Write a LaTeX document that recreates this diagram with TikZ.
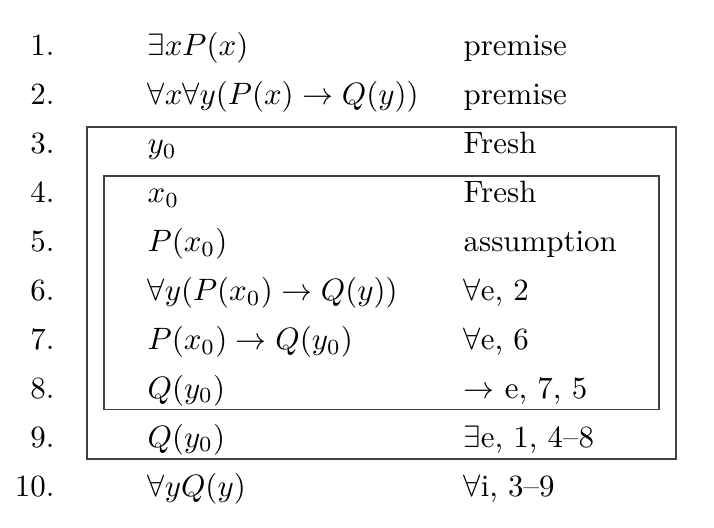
\documentclass[tikz,border=0pt]{standalone}
\begin{document}
\begin{tikzpicture}[x=0.3235pt, y=-0.3235pt,
    num/.style={anchor=base east, inner sep=0pt},
    fml/.style={anchor=base west, inner sep=0pt},
    box/.style={draw=black!75, line width=0.45pt}]
  \useasboundingbox (0, 0) rectangle (714, 528);
  \node[num] (N1)  at (55,  56.0) {1.};
  \node[num] (N2)  at (55, 104.9) {2.};
  \node[num] (N3)  at (55, 153.8) {3.};
  \node[num] (N4)  at (55, 202.7) {4.};
  \node[num] (N5)  at (55, 251.6) {5.};
  \node[num] (N6)  at (55, 300.5) {6.};
  \node[num] (N7)  at (55, 349.4) {7.};
  \node[num] (N8)  at (55, 398.3) {8.};
  \node[num] (N9)  at (55, 447.2) {9.};
  \node[num] (N10) at (55, 496.1) {10.};
  \node[fml] (F1)  at (147,  56.0) {$\exists x P(x)$};
  \node[fml] (F2)  at (147, 104.9) {$\forall x \forall y (P(x) \rightarrow Q(y))$};
  \node[fml] (F3)  at (147, 153.8) {$y_0$};
  \node[fml] (F4)  at (147, 202.7) {$x_0$};
  \node[fml] (F5)  at (147, 251.6) {$P(x_0)$};
  \node[fml] (F6)  at (147, 300.5) {$\forall y (P(x_0) \rightarrow Q(y))$};
  \node[fml] (F7)  at (147, 349.4) {$P(x_0) \rightarrow Q(y_0)$};
  \node[fml] (F8)  at (147, 398.3) {$Q(y_0)$};
  \node[fml] (F9)  at (147, 447.2) {$Q(y_0)$};
  \node[fml] (F10) at (147, 496.1) {$\forall y Q(y)$};
  \node[fml] (R1)  at (463,  56.0) {premise};
  \node[fml] (R2)  at (463, 104.9) {premise};
  \node[fml] (R3)  at (463, 153.8) {Fresh};
  \node[fml] (R4)  at (463, 202.7) {Fresh};
  \node[fml] (R5)  at (463, 251.6) {assumption};
  \node[fml] (R6)  at (463, 300.5) {$\forall$e, 2};
  \node[fml] (R7)  at (463, 349.4) {$\forall$e, 6};
  \node[fml] (R8)  at (463, 398.3) {$\rightarrow$ e, 7, 5};
  \node[fml] (R9)  at (463, 447.2) {$\exists$e, 1, 4--8};
  \node[fml] (R10) at (463, 496.1) {$\forall$i, 3--9};
  % outer box (lines 3--9) and inner box (lines 4--8)
  \draw[box] (87, 127) coordinate (O1) rectangle (676, 459) coordinate (O2);
  \draw[box] (104, 176) coordinate (I1) rectangle (659, 409.5) coordinate (I2);
\end{tikzpicture}
\end{document}
